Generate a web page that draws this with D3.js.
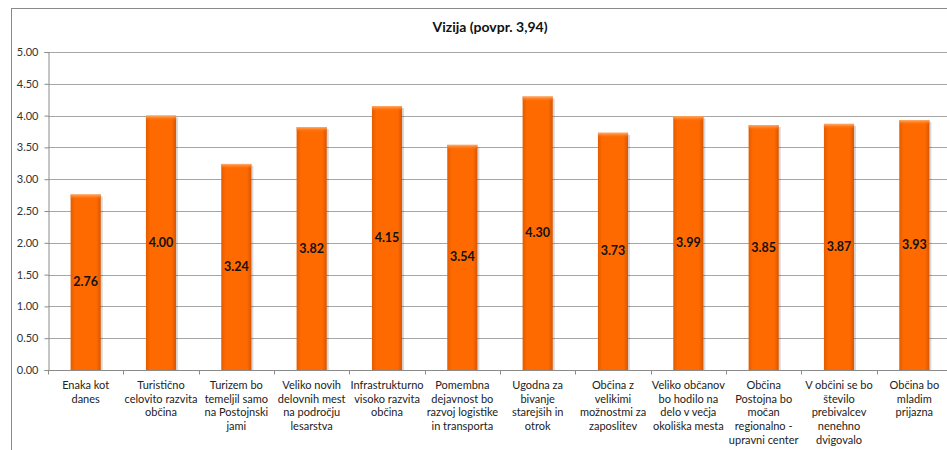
<!DOCTYPE html>
<html>
<head>
<meta charset="utf-8">
<script src="https://cdn.jsdelivr.net/npm/d3@7"></script>
<style>
  body { margin: 0; background: #fff; overflow: hidden; }
  svg { font-family: Lato, "Open Sans", sans-serif; }
</style>
</head>
<body>
<div id="chart"></div>
<script>
// data
const chartTitle = "Vizija (povpr. 3,94)";
const categories = [
    ["Enaka kot", "danes"],
    ["Turistično", "celovito razvita", "občina"],
    ["Turizem bo", "temeljil samo", "na Postojnski", "jami"],
    ["Veliko novih", "delovnih mest", "na področju", "lesarstva"],
    ["Infrastrukturno", "visoko razvita", "občina"],
    ["Pomembna", "dejavnost bo", "razvoj logistike", "in transporta"],
    ["Ugodna za", "bivanje", "starejših in", "otrok"],
    ["Občina z", "velikimi", "možnostmi za", "zaposlitev"],
    ["Veliko občanov", "bo hodilo na", "delo v večja", "okoliška mesta"],
    ["Občina", "Postojna bo", "močan", "regionalno -", "upravni center"],
    ["V občini se bo", "število", "prebivalcev", "nenehno", "dvigovalo"],
    ["Občina bo", "mladim", "prijazna"]
];
const values = [2.76, 4.00, 3.24, 3.82, 4.15, 3.54, 4.30, 3.73, 3.99, 3.85, 3.87, 3.93];
const yTicks = [0, 0.5, 1, 1.5, 2, 2.5, 3, 3.5, 4, 4.5, 5];

const canvWidth = 947, canvHeight = 450;
const svg = d3.select("#chart")
    .append("svg")
    .attr("width", canvWidth)
    .attr("height", canvHeight);

// plot area (runs a bit past the right edge like the original)
const plot = {left: 48, top: 52, right: 952, bottom: 370};

const x = d3.scaleBand()
    .domain(d3.range(values.length))
    .range([plot.left, plot.right])
    .padding(0);

const y = d3.scaleLinear()
    .domain([0, 5])
    .range([plot.bottom, plot.top]);

const barW = x.bandwidth() * 0.4;

// gradients for the bars
const defs = svg.append("defs");
const grad = defs.append("linearGradient").attr("id", "barGrad");
grad.append("stop").attr("offset", "0").attr("stop-color", "#e35c00");
grad.append("stop").attr("offset", "0.15").attr("stop-color", "#ff6a00");
grad.append("stop").attr("offset", "0.85").attr("stop-color", "#ff6a00");
grad.append("stop").attr("offset", "1").attr("stop-color", "#d95500");

const topGrad = defs.append("linearGradient").attr("id", "topGrad")
    .attr("x1", 0).attr("y1", 0).attr("x2", 0).attr("y2", 1);
topGrad.append("stop").attr("offset", "0").attr("stop-color", "#ffb070");
topGrad.append("stop").attr("offset", "1").attr("stop-color", "#ff6a00").attr("stop-opacity", 0);

// outer frame
svg.append("rect")
    .attr("x", 11.5).attr("y", 8.5)
    .attr("width", 960).attr("height", 460)
    .attr("fill", "none")
    .attr("stroke", "#8a8a8a");

// title
svg.append("text")
    .attr("x", 490)
    .attr("y", 32)
    .attr("text-anchor", "middle")
    .attr("font-size", "14px")
    .attr("font-weight", "bold")
    .attr("fill", "#111")
    .text(chartTitle);

// gridlines
svg.append("g")
    .selectAll("line")
    .data(yTicks.filter(d => d > 0))
    .join("line")
    .attr("x1", plot.left).attr("x2", canvWidth)
    .attr("y1", d => Math.round(y(d)) + 0.5)
    .attr("y2", d => Math.round(y(d)) + 0.5)
    .attr("stroke", "#a6a6a6");

// y axis
const yAxis = svg.append("g")
    .attr("transform", `translate(${plot.left + 0.5},0)`)
    .call(d3.axisLeft(y).tickValues(yTicks).tickFormat(d3.format(".2f")).tickSize(4).tickPadding(6));
yAxis.selectAll("path, line").attr("stroke", "#8a8a8a");
yAxis.selectAll("text")
    .attr("font-family", "Lato, sans-serif")
    .attr("font-size", "11px")
    .attr("fill", "#333");

// bars
const bars = svg.append("g");

bars.selectAll("rect.shadow")
    .data(values)
    .join("rect")
    .attr("class", "shadow")
    .attr("x", (d, i) => x(i) + (x.bandwidth() - barW) / 2 + 2)
    .attr("y", d => y(d) + 2)
    .attr("width", barW)
    .attr("height", d => plot.bottom - y(d) - 2)
    .attr("fill", "#000")
    .attr("opacity", 0.15);

bars.selectAll("rect.bar")
    .data(values)
    .join("rect")
    .attr("class", "bar")
    .attr("x", (d, i) => x(i) + (x.bandwidth() - barW) / 2)
    .attr("y", d => y(d))
    .attr("width", barW)
    .attr("height", d => plot.bottom - y(d))
    .attr("fill", "url(#barGrad)");

bars.selectAll("rect.top")
    .data(values)
    .join("rect")
    .attr("class", "top")
    .attr("x", (d, i) => x(i) + (x.bandwidth() - barW) / 2)
    .attr("y", d => y(d))
    .attr("width", barW)
    .attr("height", 5)
    .attr("fill", "url(#topGrad)");

// value labels, middle of each bar
bars.selectAll("text")
    .data(values)
    .join("text")
    .attr("x", (d, i) => x(i) + x.bandwidth() / 2)
    .attr("y", d => (y(d) + plot.bottom) / 2 + 4)
    .attr("text-anchor", "middle")
    .attr("font-size", "12.5px")
    .attr("font-weight", "bold")
    .attr("fill", "#111")
    .text(d => d3.format(".2f")(d));

// x axis
const xAxisG = svg.append("g")
    .attr("transform", `translate(0,${plot.bottom + 0.5})`);
xAxisG.append("line")
    .attr("x1", plot.left).attr("x2", canvWidth)
    .attr("stroke", "#8a8a8a");
xAxisG.selectAll("line.tick")
    .data(d3.range(values.length + 1))
    .join("line")
    .attr("class", "tick")
    .attr("x1", i => Math.round(plot.left + i * x.step()) + 0.5)
    .attr("x2", i => Math.round(plot.left + i * x.step()) + 0.5)
    .attr("y1", 0).attr("y2", 4)
    .attr("stroke", "#8a8a8a");

// category labels (multi-line)
const catLabels = svg.append("g")
    .selectAll("text")
    .data(categories)
    .join("text")
    .attr("text-anchor", "middle")
    .attr("font-size", "11px")
    .attr("fill", "#222")
    .attr("transform", (d, i) => `translate(${x(i) + x.bandwidth() / 2},${plot.bottom + 19})`);

catLabels.selectAll("tspan")
    .data(d => d)
    .join("tspan")
    .attr("x", 0)
    .attr("y", (d, j) => j * 13.7)
    .text(d => d);
</script>
</body>
</html>
